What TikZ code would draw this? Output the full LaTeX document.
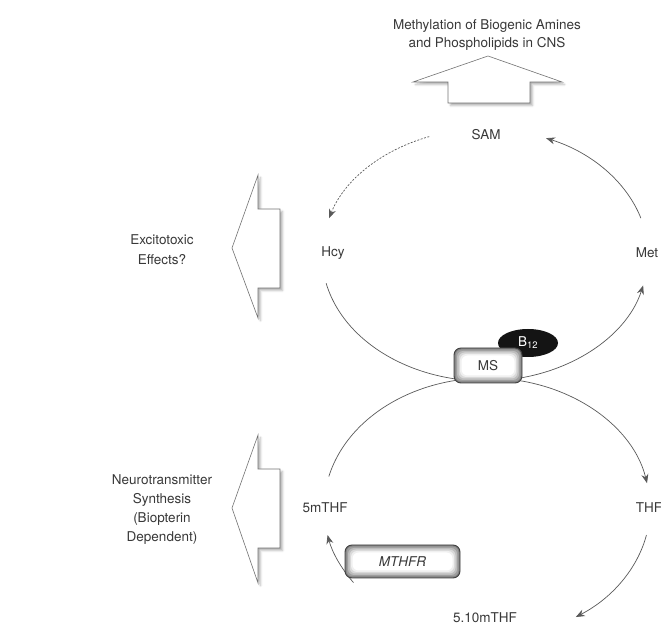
\documentclass[tikz,border=0pt]{standalone}
\usepackage{fontspec}
\setmainfont{TeX Gyre Heros}
\usetikzlibrary{arrows.meta,calc,shapes.geometric,shadows.blur}

\begin{document}
\begin{tikzpicture}[x=1pt,y=1pt,>={Stealth[length=9pt,width=7pt]},
                    font=\fontsize{13.5}{18}\selectfont,text=black!78,
                    flow/.style={->,draw=black!65,line width=0.7pt},
                    bigarrow/.style={draw=black!55,fill=white,line width=0.6pt,
                      blur shadow={shadow xshift=2.5pt,shadow yshift=-2.5pt,shadow opacity=30}},
                    enzyme/.style={draw=black!75,line width=0.9pt,rounded corners=7pt,
                      fill=black!50,inner sep=0pt,
                      path picture={
                        \foreach \i/\c in {1.5/38,3/26,4.5/15,6/6,7.5/0}
                          \fill[black!\c,rounded corners=6pt]
                            ($(path picture bounding box.south west)+(\i,\i)$) rectangle
                            ($(path picture bounding box.north east)-(\i,\i)$);}}]
  \useasboundingbox (0,0) rectangle (661,629);

  % centres of the two cycles
  \coordinate (upC) at (485,374);
  \coordinate (loC) at (487,121);

  % big open arrows
  \draw[bigarrow] (488,573) -- (562,547) -- (530,547) -- (530,526)
                  -- (448,526) -- (448,547) -- (413,547) -- cycle;
  \draw[bigarrow] (232,381) -- (258,454) -- (258,420) -- (280,420)
                  -- (280,341) -- (258,341) -- (258,311) -- cycle;
  \draw[bigarrow] (232,121) -- (258,194) -- (258,160) -- (280,160)
                  -- (280,81) -- (258,81) -- (258,46) -- cycle;

  \node (meth)  at (487,594) [align=center] {Methylation of Biogenic Amines\\and Phospholipids in CNS};
  \node (sam)   at (486,494) {SAM};
  \node (hcy)   at (333,376) {Hcy};
  \node (met)   at (647,376) {Met};
  \node (exc)   at (162,379) [align=center,font=\fontsize{13.5}{20}\selectfont] {Excitotoxic\\Effects?};
  \node (neuro) at (162,119) [align=center,font=\fontsize{13.5}{19}\selectfont] {Neurotransmitter\\Synthesis\\(Biopterin\\Dependent)};
  \node (mthf)  at (325,121) {5mTHF};
  \node (thf)   at (649,121) {THF};
  \node (mlthf) at (485,11)  {5.10mTHF};

  % ends of the arcs
  \coordinate (metUp)   at ($(upC)+(17:163 and 126)$);
  \coordinate (samLeft) at ($(upC)+(110:163 and 126)$);
  \coordinate (hcyDown) at ($(upC)+(193:163 and 126)$);
  \coordinate (mthfUp)  at ($(loC)+(166:163 and 130)$);
  \coordinate (thfDown) at ($(loC)+(-12:163 and 130)$);
  \coordinate (mlLeft)  at ($(loC)+(215:163 and 130)$);

  % methionine cycle
  \draw[flow] (metUp) arc[start angle=17,end angle=68,x radius=163,y radius=126];
  \draw[flow,dash pattern=on 2pt off 1.5pt] (samLeft) arc[start angle=110,end angle=163,x radius=163,y radius=126];
  \draw[flow] (hcyDown) arc[start angle=193,end angle=346,x radius=163,y radius=126];

  % folate cycle
  \draw[flow] (mthfUp) arc[start angle=166,end angle=11,x radius=163,y radius=130];
  \draw[flow] (thfDown) arc[start angle=-12,end angle=-57,x radius=163,y radius=130];
  \draw[flow] (mlLeft) arc[start angle=215,end angle=192,x radius=163,y radius=130];

  \node[ellipse,fill=black!92,text=white,minimum width=60,minimum height=28,inner sep=0pt] (b12) at (528,286) {B\textsubscript{12}};
  \node[enzyme,minimum width=68,minimum height=35] (ms) at (488,263.5) {MS};
  \node[enzyme,minimum width=115,minimum height=33] (mthfr) at (402.5,67.5) {\itshape MTHFR};
\end{tikzpicture}
\end{document}
